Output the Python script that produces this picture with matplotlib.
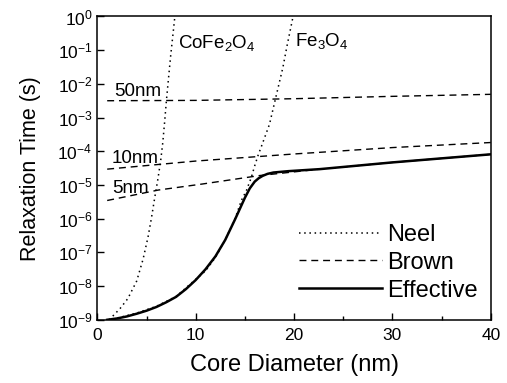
import numpy as np
import matplotlib
matplotlib.use("Agg")
import matplotlib.pyplot as plt
from matplotlib.lines import Line2D

plt.rcParams["font.family"] = ["Liberation Sans", "DejaVu Sans"]
plt.rcParams["mathtext.fontset"] = "custom"
plt.rcParams["mathtext.rm"] = "Liberation Sans"
plt.rcParams["mathtext.it"] = "Liberation Sans:italic"

# values (x = core diameter in nm, y = log10 of time in s)
neel_cofe_x = [1.2, 2.3, 3.1, 4.0, 4.65, 5.15, 5.5, 5.85, 6.17, 6.45, 6.65, 6.85,
               7.02, 7.26, 7.46, 7.7, 7.88]
neel_cofe_log = [-9.0, -8.67, -8.37, -7.85, -7.2, -6.55, -5.98, -5.35, -4.8, -4.25,
                 -3.75, -3.1, -2.5, -1.76, -1.15, -0.5, 0.0]

neel_fe_x = [1.0, 2.0, 4.0, 6.0, 8.0, 10.0, 11.0, 12.0, 13.0, 14.0, 14.64, 15.15,
             15.66, 16.0, 16.33, 16.7, 17.5, 18.12, 18.86, 19.3, 19.9]
neel_fe_log = [-9.0, -8.95, -8.8, -8.6, -8.31, -7.8, -7.55, -7.15, -6.63, -6.0,
               -5.46, -5.17, -4.77, -4.43, -4.13, -3.84, -3.2, -2.43, -1.52, -0.85, 0.0]

brown_x = [1.0, 10.0, 20.0, 30.0, 40.0]
brown_50_log = [-2.50, -2.49, -2.44, -2.37, -2.31]
brown_10_log = [-4.53, -4.29, -4.08, -3.89, -3.74]
brown_5_x = [1.0, 6.2, 10.7, 16.5, 22.6, 30.0, 40.0]
brown_5_log = [-5.46, -5.15, -4.97, -4.72, -4.53, -4.33, -4.09]

eff_x = [1.0, 2.0, 3.0, 4.0, 5.0, 6.0, 7.0, 8.0, 9.0, 10.0, 11.0, 12.0, 13.0, 14.0,
         15.0, 15.5, 16.0, 16.4, 16.8, 17.3, 17.9, 19.4, 22.6, 30.0, 40.0]
eff_log = [-9.0, -8.96, -8.9, -8.82, -8.73, -8.62, -8.48, -8.32, -8.09, -7.82, -7.5,
           -7.12, -6.63, -6.02, -5.38, -5.1, -4.9, -4.8, -4.73, -4.67, -4.63, -4.59,
           -4.53, -4.33, -4.09]


def tau(v):
    return 10.0 ** np.asarray(v, dtype=float)


fig = plt.figure(figsize=(5.07, 3.83), dpi=100)
ax = fig.add_axes([0.192, 0.165, 0.776, 0.792])

dot = dict(color="black", lw=1.1, ls=(0, (1, 2.4)))
dash = dict(color="black", lw=1.0, ls=(0, (5, 3.5)))

ax.plot(neel_cofe_x, tau(neel_cofe_log), **dot)
ax.plot(neel_fe_x, tau(neel_fe_log), **dot)
ax.plot(brown_x, tau(brown_50_log), **dash)
ax.plot(brown_x, tau(brown_10_log), **dash)
ax.plot(brown_5_x, tau(brown_5_log), **dash)
ax.plot(eff_x, tau(eff_log), color="black", lw=1.8, zorder=5)

ax.set_yscale("log")
ax.set_xlim(0, 40)
ax.set_ylim(1e-9, 1e0)
ax.set_xticks([0, 10, 20, 30, 40])
ax.set_xticks([5, 15, 25, 35], minor=True)
ax.set_yticks(10.0 ** np.arange(-9, 1))
ax.yaxis.set_minor_locator(matplotlib.ticker.NullLocator())
ax.tick_params(which="both", direction="in", top=False, right=False, labelsize=12.5)
ax.tick_params(which="major", length=5, width=1.0)
ax.tick_params(which="minor", length=3, width=1.0)
ax.tick_params(axis="x", pad=6)
for s in ax.spines.values():
    s.set_linewidth(1.1)

ax.set_xlabel("Core Diameter (nm)", fontsize=17, labelpad=8)
ax.set_ylabel("Relaxation Time (s)", fontsize=15.5, labelpad=12)

lab = dict(fontsize=13.5, va="baseline", ha="left")
ax.text(8.17, 10 ** -0.94, "CoFe$_2$O$_4$", **lab)
ax.text(20.05, 10 ** -0.88, "Fe$_3$O$_4$", **lab)
ax.text(1.7, 10 ** -2.36, "50nm", **lab)
ax.text(1.5, 10 ** -4.34, "10nm", **lab)
ax.text(1.55, 10 ** -5.23, "5nm", **lab)

handles = [Line2D([], [], **dot), Line2D([], [], **dash),
           Line2D([], [], color="black", lw=1.8)]
ax.legend(handles, ["Neel", "Brown", "Effective"], loc="lower right",
          bbox_to_anchor=(1.02, -0.01), frameon=False, fontsize=17,
          handlelength=3.5, handletextpad=0.2, labelspacing=0.25)

fig.savefig("out.png", dpi=100)
